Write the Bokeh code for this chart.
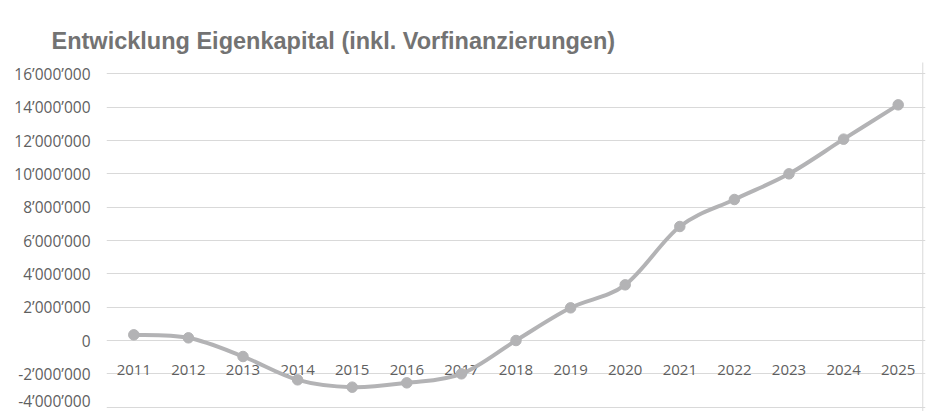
from bokeh.plotting import figure
from bokeh.models import Range1d, FixedTicker, Label
from bokeh.core.properties import value
from bokeh.embed import file_html
from bokeh.resources import INLINE

# ---- data ----
years = [2011, 2012, 2013, 2014, 2015, 2016, 2017, 2018, 2019, 2020, 2021, 2022, 2023, 2024, 2025]
year_labels = [str(y) for y in years]
equity = [340000, 160000, -960000, -2360000, -2800000, -2540000, -2000000, 0,
          1960000, 3340000, 6840000, 8460000, 10000000, 12080000, 14140000]
y_ticks = [-4000000, -2000000, 0, 2000000, 4000000, 6000000, 8000000,
           10000000, 12000000, 14000000, 16000000]
y_tick_labels = ["-4’000’000", "-2’000’000", "0", "2’000’000", "4’000’000", "6’000’000",
                 "8’000’000", "10’000’000", "12’000’000", "14’000’000", "16’000’000"]
title_text = "Entwicklung Eigenkapital (inkl. Vorfinanzierungen)"

LINE = "#b3b3b5"
TXT = "#5f5f5f"
GRID = "#d9d9d9"

p = figure(width=926, height=411, output_backend="svg", toolbar_location=None,
           x_range=Range1d(2010.5, 2025.5), y_range=Range1d(-4260000, 16680000),
           x_axis_location=None, min_border_left=106, min_border_right=1,
           min_border_bottom=0, min_border_top=62)
p.outline_line_color = None
p.background_fill_color = "white"
p.border_fill_color = "white"

p.title.text = title_text
p.title.text_font = "Liberation Sans"
p.title.text_font_style = "bold"
p.title.text_font_size = "23.5px"
p.title.text_color = "#737373"
p.title.align = "left"
p.title.offset = -55
p.title.standoff = 17

ax = p.yaxis[0]
ax.ticker = FixedTicker(ticks=y_ticks)
ax.major_label_overrides = {t: l for t, l in zip(y_ticks, y_tick_labels)}
ax.axis_line_color = None
ax.major_tick_line_color = None
ax.minor_tick_line_color = None
ax.major_tick_out = 0
ax.major_tick_in = 0
ax.major_label_standoff = 16
ax.major_label_text_font = "Open Sans"
ax.major_label_text_font_size = "15.5px"
ax.major_label_text_color = TXT

p.xgrid.visible = False
p.ygrid.grid_line_color = GRID
p.ygrid.grid_line_width = 1

# chart-area border (empty label used as a frame box in canvas units)
p.add_layout(Label(x=6, y=7, x_units="canvas", y_units="canvas", text=" ",
                   text_font_size="1px", anchor="top_left",
                   padding=dict(left=0, right=916, top=0, bottom=430),
                   border_line_color=GRID, border_line_width=1,
                   background_fill_color=None))

# category labels sitting along the zero line
p.text(x=years, y=[0] * len(years), text=year_labels, text_align="center",
       text_baseline="alphabetic", y_offset=29, text_font=value("Open Sans"),
       text_font_size="15px", text_color=TXT)

# smoothed line (Bezier segments through the data points)
n = len(years)
def pt(i):
    i = max(0, min(n - 1, i))
    return years[i], equity[i]
x0, y0, x1, y1, cx0, cy0, cx1, cy1 = [], [], [], [], [], [], [], []
for i in range(n - 1):
    pa, pb, pc, pd = pt(i - 1), pt(i), pt(i + 1), pt(i + 2)
    x0.append(pb[0]); y0.append(pb[1]); x1.append(pc[0]); y1.append(pc[1])
    cx0.append(pb[0] + (pc[0] - pa[0]) / 6); cy0.append(pb[1] + (pc[1] - pa[1]) / 6)
    cx1.append(pc[0] - (pd[0] - pb[0]) / 6); cy1.append(pc[1] - (pd[1] - pb[1]) / 6)
p.bezier(x0=x0, y0=y0, x1=x1, y1=y1, cx0=cx0, cy0=cy0, cx1=cx1, cy1=cy1,
         line_color=LINE, line_width=4, line_cap="round")

p.scatter(x=years, y=equity, size=10.5, fill_color=LINE, line_color=LINE)

open("out.html", "w").write(file_html(p, INLINE))
